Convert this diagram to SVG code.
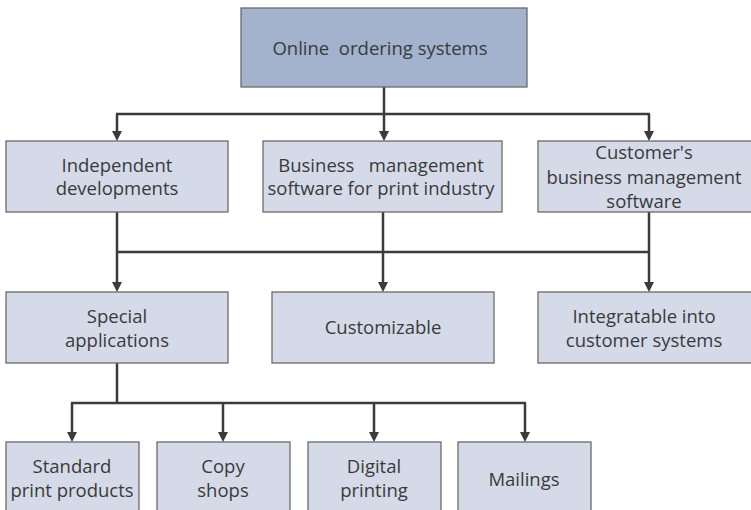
<svg xmlns="http://www.w3.org/2000/svg" width="751" height="510" viewBox="0 0 751 510">
<defs>
<style>
.box{fill:#d4dae8;stroke:#6a6a6a;stroke-width:1.3}
.top{fill:#a3b3cd;stroke:#6a6a6a;stroke-width:1.3}
.t{font-family:"Open Sans","Noto Sans","Liberation Sans",sans-serif;font-size:18.5px;fill:#3a3a3a;text-anchor:middle}
.ln{fill:none;stroke:#3b3b3b;stroke-width:2.5}
.ah{fill:#3b3b3b}
</style>
</defs>
<g id="connectors">
<path class="ln" d="M384,87 V114 M116,114 H650 M117,114 V133 M384,114 V133 M649,114 V133"/>
<path class="ah" d="M112,131 H122 L117,141 Z M379,131 H389 L384,141 Z M644,131 H654 L649,141 Z"/>
<path class="ln" d="M117,212 V284 M383,212 V284 M649,212 V284 M116,252 H650"/>
<path class="ah" d="M112,282 H122 L117,292 Z M378,282 H388 L383,292 Z M644,282 H654 L649,292 Z"/>
<path class="ln" d="M117,363 V403 M71,403 H526 M72,403 V434 M223,403 V434 M374,403 V434 M525,403 V434"/>
<path class="ah" d="M67,432 H77 L72,442 Z M218,432 H228 L223,442 Z M369,432 H379 L374,442 Z M520,432 H530 L525,442 Z"/>
</g>
<g id="online-ordering">
<rect class="top" x="241" y="8" width="286" height="79"/>
<text class="t" x="380" y="55" xml:space="preserve">Online  ordering systems</text>
</g>
<g id="independent">
<rect class="box" x="6" y="141" width="222" height="71"/>
<text class="t" x="117" y="172">Independent</text>
<text class="t" x="117" y="195">developments</text>
</g>
<g id="business-mgmt">
<rect class="box" x="263" y="141" width="239" height="71"/>
<text class="t" x="381" y="172" xml:space="preserve">Business   management</text>
<text class="t" x="381" y="195">software for print industry</text>
</g>
<g id="customer-mgmt">
<rect class="box" x="538" y="141" width="220" height="71"/>
<text class="t" x="644" y="159">Customer's</text>
<text class="t" x="644" y="184">business management</text>
<text class="t" x="644" y="208">software</text>
</g>
<g id="special">
<rect class="box" x="6" y="292" width="222" height="71"/>
<text class="t" x="117" y="323">Special</text>
<text class="t" x="117" y="347">applications</text>
</g>
<g id="customizable">
<rect class="box" x="272" y="292" width="222" height="71"/>
<text class="t" x="383" y="334">Customizable</text>
</g>
<g id="integratable">
<rect class="box" x="538" y="292" width="220" height="71"/>
<text class="t" x="644" y="323">Integratable into</text>
<text class="t" x="644" y="347">customer systems</text>
</g>
<g id="standard">
<rect class="box" x="6" y="442" width="133" height="80"/>
<text class="t" x="72" y="473">Standard</text>
<text class="t" x="72" y="497">print products</text>
</g>
<g id="copy">
<rect class="box" x="157" y="442" width="133" height="80"/>
<text class="t" x="223" y="473">Copy</text>
<text class="t" x="223" y="497">shops</text>
</g>
<g id="digital">
<rect class="box" x="308" y="442" width="133" height="80"/>
<text class="t" x="374" y="473">Digital</text>
<text class="t" x="374" y="497">printing</text>
</g>
<g id="mailings">
<rect class="box" x="458" y="442" width="133" height="80"/>
<text class="t" x="524" y="486">Mailings</text>
</g>
</svg>
